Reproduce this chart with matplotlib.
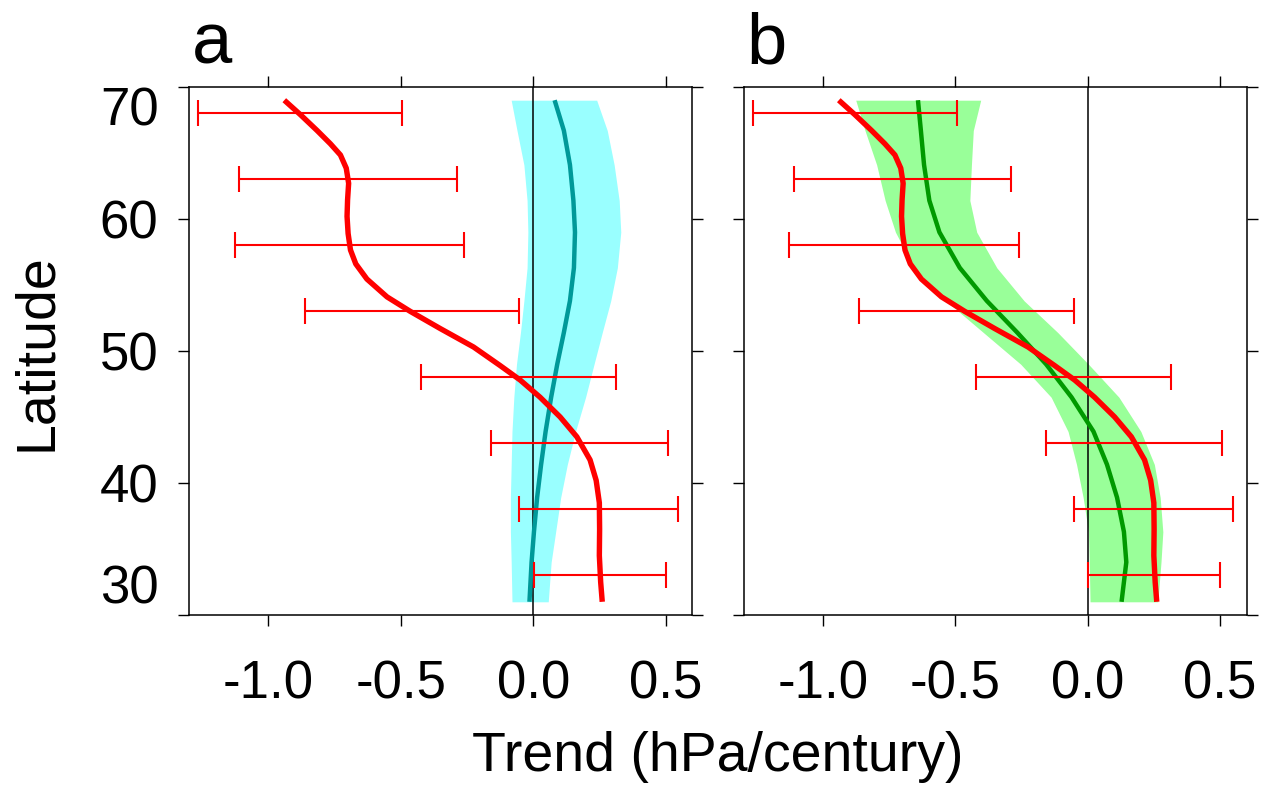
import matplotlib
matplotlib.use("Agg")
import matplotlib.pyplot as plt

plt.rcParams['font.family'] = ['Liberation Sans', 'DejaVu Sans']

# observed trend (red), same in both panels
obs_lat = [69.0, 67.9, 66.7, 65.7, 64.85, 63.85, 62.7, 61.45, 60.2, 58.9, 57.65,
           56.6, 55.45, 54.1, 53.0, 51.7, 50.3, 48.9, 47.8, 46.5, 45.0, 43.5,
           41.75, 40.2, 38.5, 36.5, 34.5, 32.5, 31.0]
obs_trend = [-0.940, -0.879, -0.816, -0.766, -0.728, -0.706, -0.697, -0.701,
             -0.703, -0.699, -0.690, -0.670, -0.628, -0.552, -0.464, -0.351,
             -0.225, -0.125, -0.049, 0.026, 0.102, 0.165, 0.215, 0.238, 0.250,
             0.251, 0.250, 0.255, 0.261]

# error bars on the observed trend
bar_lat = [68, 63, 58, 53, 48, 43, 38, 33]
bar_lo = [-1.266, -1.111, -1.128, -0.862, -0.422, -0.159, -0.053, 0.003]
bar_hi = [-0.494, -0.289, -0.260, -0.053, 0.313, 0.508, 0.548, 0.501]

# model curves and spread
mod_lat = [69.0, 66.7, 64.1, 61.4, 59.0, 56.3, 53.8, 51.4, 49.0, 46.5, 43.9, 41.4,
           38.9, 36.3, 34.0, 31.0]
a_mean = [0.081, 0.116, 0.139, 0.152, 0.158, 0.154, 0.139, 0.116, 0.091, 0.068,
          0.047, 0.030, 0.015, 0.003, -0.006, -0.014]
a_low = [-0.083, -0.061, -0.035, -0.023, -0.020, -0.023, -0.035, -0.048, -0.063,
         -0.073, -0.080, -0.083, -0.086, -0.086, -0.083, -0.080]
a_high = [0.240, 0.280, 0.306, 0.325, 0.331, 0.318, 0.293, 0.261, 0.230, 0.198,
          0.160, 0.129, 0.104, 0.085, 0.068, 0.057]

b_mean = [-0.641, -0.630, -0.618, -0.598, -0.560, -0.483, -0.381, -0.266, -0.157,
          -0.061, 0.022, 0.073, 0.111, 0.137, 0.146, 0.128]
b_low = [-0.876, -0.841, -0.797, -0.765, -0.726, -0.656, -0.535, -0.394, -0.253,
         -0.138, -0.074, -0.042, -0.017, 0.003, 0.006, 0.009]
b_high = [-0.404, -0.432, -0.439, -0.445, -0.419, -0.343, -0.240, -0.113, 0.003,
          0.118, 0.201, 0.252, 0.274, 0.284, 0.277, 0.265]

x_ticks = [-1.0, -0.5, 0.0, 0.5]
x_ticklabels = ['-1.0', '-0.5', '0.0', '0.5']
y_ticks = [30, 40, 50, 60, 70]

fig = plt.figure(figsize=(12.64, 7.86), dpi=100)

panels = [
    ('a', 189 / 1264, a_mean, a_low, a_high, '#009999', '#99ffff'),
    ('b', 743.5 / 1264, b_mean, b_low, b_high, '#009900', '#99ff99'),
]

for i, (letter, left, mean, low, high, line_col, band_col) in enumerate(panels):
    ax = fig.add_axes([left, 171 / 786, 503 / 1264, 528 / 786])
    ax.fill_betweenx(mod_lat, low, high, color=band_col, lw=0, zorder=1)
    ax.axvline(0, color='black', lw=1.1, zorder=2)
    ax.plot(mean, mod_lat, color=line_col, lw=3.2, zorder=3, solid_capstyle='butt')
    centers = [(lo + hi) / 2 for lo, hi in zip(bar_lo, bar_hi)]
    errs = [[c - lo for c, lo in zip(centers, bar_lo)],
            [hi - c for c, hi in zip(centers, bar_hi)]]
    ax.errorbar(centers, bar_lat, xerr=errs, fmt='none', ecolor='red',
                elinewidth=1.5, capsize=9.5, capthick=1.5, zorder=4)
    ax.plot(obs_trend, obs_lat, color='red', lw=3.9, zorder=5,
            solid_capstyle='butt', solid_joinstyle='round')

    ax.set_xlim(-1.3, 0.6)
    ax.set_ylim(30, 70)
    ax.set_xticks(x_ticks)
    ax.set_xticklabels(x_ticklabels)
    ax.set_yticks(y_ticks)
    ax.tick_params(direction='out', length=8, width=1.0, top=True, right=True,
                   labelsize=38, pad=24, axis='x')
    ax.tick_params(direction='out', length=8, width=1.0, left=True, right=True,
                   labelsize=38, pad=14, axis='y')
    if i == 0:
        labels = ax.get_yticklabels()
        labels[0].set_va('bottom')
        labels[-1].set_va('top')
    else:
        ax.set_yticklabels([])
    for s in ax.spines.values():
        s.set_linewidth(1.1)
    ax.text(0.005, 1.045, letter, transform=ax.transAxes, fontsize=52,
            ha='left', va='baseline')

fig.text(37 / 1264, 1 - 352 / 786, 'Latitude', rotation=90, fontsize=40,
         ha='center', va='center')
fig.text(718 / 1264, 1 - 757 / 786, 'Trend (hPa/century)', fontsize=40,
         ha='center', va='center')

fig.savefig('out.png', dpi=100)
